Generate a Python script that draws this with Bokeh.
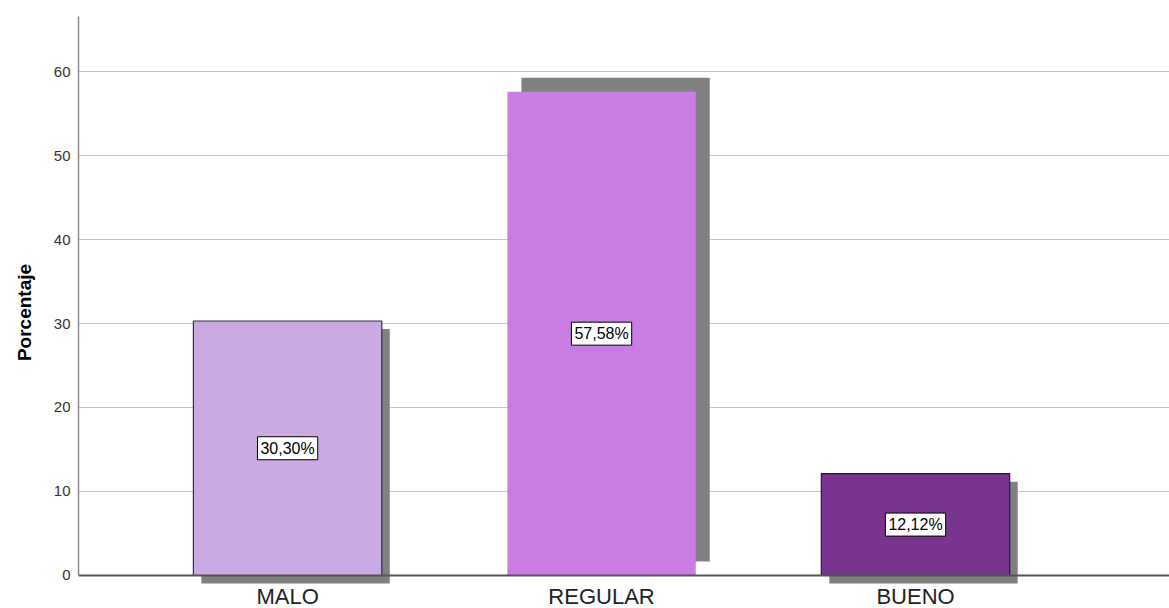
from bokeh.plotting import figure
from bokeh.models import Range1d, FixedTicker, Span, Label
from bokeh.core.properties import value
from bokeh.embed import file_html
from bokeh.resources import INLINE

# ---- data ----
categories = ["MALO", "REGULAR", "BUENO"]
percentages = [30.30, 57.58, 12.12]
y_ticks = [0, 10, 20, 30, 40, 50, 60]
y_axis_title = "Porcentaje"

# ---- style ----
bar_colors = ["#CBA9E3", "#C97CE4", "#7A3591"]
bar_outlines = ["#3b2c46", None, "#2a1530"]
shadow_px = [(8, 8), (14, -14), (8, 8)]   # (right, down) in screen px
FONT = "Liberation Sans"

X_START, X_END = -0.666, 2.809
Y_START, Y_END = -3.93, 66.55
FRAME_W, FRAME_H = 1091, 592
px_x = (X_END - X_START) / FRAME_W
px_y = (Y_END - Y_START) / FRAME_H

p = figure(width=1169, height=608, output_backend="svg", toolbar_location=None,
           x_range=Range1d(X_START, X_END), y_range=Range1d(Y_START, Y_END),
           x_axis_location=None, min_border_left=78, min_border_top=16,
           min_border_right=0, min_border_bottom=0)
p.outline_line_color = None
p.background_fill_color = "white"
p.border_fill_color = "white"

xs = list(range(len(categories)))
bar_w = 0.6

# shadows
sh_x = [x + dx * px_x for x, (dx, dy) in zip(xs, shadow_px)]
sh_top = [v - dy * px_y for v, (dx, dy) in zip(percentages, shadow_px)]
sh_bot = [0 - dy * px_y for (dx, dy) in shadow_px]
p.vbar(x=sh_x, top=sh_top, bottom=sh_bot, width=bar_w, fill_color="#808080",
       line_color=None)

# bars
for x, v, c, oc in zip(xs, percentages, bar_colors, bar_outlines):
    p.vbar(x=[x], top=[v], bottom=[0], width=bar_w, fill_color=c,
           line_color=oc if oc else None, line_width=1.2)

# zero baseline
p.add_layout(Span(location=0, dimension="width", line_color="#555555", line_width=2))

# value labels
for x, v in zip(xs, percentages):
    txt = f"{v:.2f}".replace(".", ",") + "%"
    p.add_layout(Label(x=x, y=v / 2, text=txt, text_align="center",
                       text_baseline="middle", text_font=FONT, text_font_size="16px",
                       text_color="black", background_fill_color="white",
                       border_line_color="black", border_line_width=1, padding=3))

# category labels
p.text(x=xs, y=[0] * len(xs), text=categories, text_align="center",
       text_baseline="top", y_offset=9, text_font=value(FONT),
       text_font_size="22px", text_color="#222222")

# y axis
ax = p.yaxis[0]
ax.ticker = FixedTicker(ticks=y_ticks)
ax.bounds = (0, Y_END)
ax.axis_line_color = "#8c8c8c"
ax.axis_line_width = 1.5
ax.major_tick_out = 0
ax.major_tick_in = 0
ax.minor_tick_out = 0
ax.minor_tick_in = 0
ax.major_label_standoff = 8
ax.major_label_text_font = FONT
ax.major_label_text_font_size = "15px"
ax.major_label_text_color = "#333333"
ax.axis_label = y_axis_title
ax.axis_label_text_font = FONT
ax.axis_label_text_font_style = "bold"
ax.axis_label_text_font_size = "19px"
ax.axis_label_text_color = "black"
ax.axis_label_standoff = 16

p.ygrid.ticker = FixedTicker(ticks=y_ticks)
p.ygrid.grid_line_color = "#c4c4c4"
p.ygrid.grid_line_width = 1.2
p.xgrid.visible = False

open("out.html", "w").write(file_html(p, INLINE))
